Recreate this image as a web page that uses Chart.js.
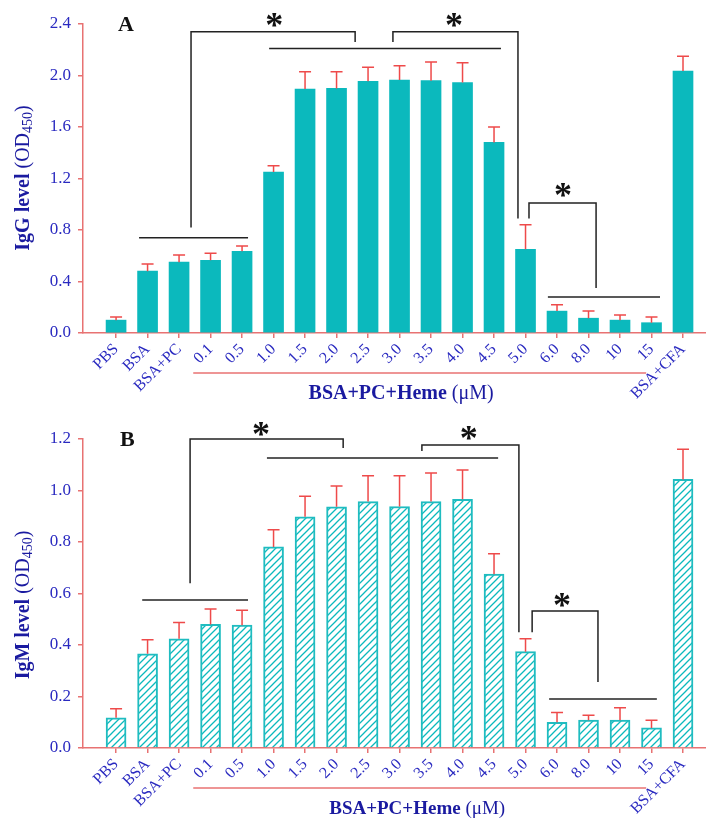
<!DOCTYPE html>
<html>
<head>
<meta charset="utf-8">
<script src="https://cdn.jsdelivr.net/npm/chart.js@4.4.0/dist/chart.umd.min.js"></script>
<style>
  html, body { margin: 0; padding: 0; background: #fff; }
  canvas { display: block; }
</style>
</head>
<body>
<canvas id="chartA" width="706" height="411"></canvas>
<canvas id="chartB" width="706" height="412"></canvas>
<script>
// groups on the x axis
const groups = ['PBS', 'BSA', 'BSA+PC', '0.1', '0.5', '1.0', '1.5', '2.0', '2.5', '3.0',
  '3.5', '4.0', '4.5', '5.0', '6.0', '8.0', '10', '15', 'BSA+CFA'];

// panel A - IgG
const iggMean = [0.10, 0.48, 0.55, 0.565, 0.635, 1.25, 1.895, 1.90, 1.955, 1.965,
  1.96, 1.945, 1.48, 0.65, 0.17, 0.115, 0.10, 0.08, 2.035];
const iggErr = [0.025, 0.055, 0.055, 0.055, 0.04, 0.05, 0.135, 0.13, 0.11, 0.11,
  0.145, 0.155, 0.12, 0.19, 0.05, 0.055, 0.04, 0.045, 0.115];
const iggTicks = [0, 0.4, 0.8, 1.2, 1.6, 2.0, 2.4];

// panel B - IgM
const igmMean = [0.117, 0.366, 0.424, 0.48, 0.477, 0.781, 0.898, 0.937, 0.957, 0.938,
  0.957, 0.966, 0.675, 0.374, 0.10, 0.108, 0.108, 0.078, 1.043];
const igmErr = [0.035, 0.054, 0.063, 0.06, 0.058, 0.067, 0.08, 0.08, 0.10, 0.119,
  0.111, 0.114, 0.079, 0.05, 0.038, 0.019, 0.048, 0.03, 0.117];
const igmTicks = [0, 0.2, 0.4, 0.6, 0.8, 1.0, 1.2];

// significance brackets, in (group index, value) units
const iggBrackets = [
  [[0.73, 0.74], [4.19, 0.74]],
  [[2.38, 0.82], [2.38, 2.34], [7.59, 2.34], [7.59, 2.26]],
  [[4.86, 2.21], [12.22, 2.21]],
  [[8.79, 2.26], [8.79, 2.34], [12.76, 2.34], [12.76, 0.89]],
  [[13.11, 0.89], [13.11, 1.01], [15.24, 1.01], [15.24, 0.35]],
  [[13.71, 0.28], [17.27, 0.28]]
];
const iggStars = [[5.02, 2.43], [10.73, 2.43], [14.19, 1.11]];

const igmBrackets = [
  [[0.83, 0.575], [4.19, 0.575]],
  [[2.35, 0.64], [2.35, 1.2], [7.21, 1.2], [7.21, 1.165]],
  [[4.79, 1.126], [12.13, 1.126]],
  [[9.71, 1.153], [9.71, 1.177], [12.79, 1.177], [12.79, 0.45]],
  [[13.21, 0.45], [13.21, 0.532], [15.3, 0.532], [15.3, 0.256]],
  [[13.75, 0.19], [17.17, 0.19]]
];
const igmStars = [[4.6, 1.24], [11.2, 1.223], [14.16, 0.575]];

const SERIF = '"Liberation Serif", "Times New Roman", serif';
const TICK_BLUE = '#2a2ac0';
const TITLE_BLUE = '#1a1aa0';
const AXIS_RED = '#e87272';
const ERR_RED = '#ee4a4a';
const TEAL = '#0bb9bd';

function hatchPattern() {
  const c = document.createElement('canvas');
  c.width = 7; c.height = 7;
  const g = c.getContext('2d');
  g.fillStyle = '#fff';
  g.fillRect(0, 0, 7, 7);
  g.strokeStyle = TEAL;
  g.lineWidth = 1.3;
  g.beginPath();
  g.moveTo(0, 7); g.lineTo(7, 0);
  g.moveTo(-1, 1); g.lineTo(1, -1);
  g.moveTo(6, 8); g.lineTo(8, 6);
  g.stroke();
  return g.createPattern(c, 'repeat');
}

const errorBarPlugin = {
  id: 'errorBars',
  afterDatasetsDraw(chart) {
    const { ctx, scales: { y } } = chart;
    const ds = chart.data.datasets[0];
    const meta = chart.getDatasetMeta(0);
    ctx.save();
    ctx.strokeStyle = ERR_RED;
    ctx.lineWidth = 1.5;
    meta.data.forEach((bar, i) => {
      const v = ds.data[i].y;
      const y0 = y.getPixelForValue(v);
      const y1 = y.getPixelForValue(v + ds.errors[i]);
      ctx.beginPath();
      ctx.moveTo(bar.x, y0); ctx.lineTo(bar.x, y1);
      ctx.moveTo(bar.x - 6, y1); ctx.lineTo(bar.x + 6, y1);
      ctx.stroke();
    });
    ctx.restore();
  }
};

// brackets, stars, panel letter, axis titles
function annotationPlugin(cfg) {
  return {
    id: 'annotations',
    afterDraw(chart) {
      const { ctx, chartArea, scales: { x, y } } = chart;
      ctx.save();

      // brackets
      ctx.strokeStyle = '#222';
      ctx.lineWidth = 1.5;
      cfg.brackets.forEach(path => {
        ctx.beginPath();
        path.forEach(([gx, gy], k) => {
          const px = x.getPixelForValue(gx), py = y.getPixelForValue(gy);
          if (k === 0) ctx.moveTo(px, py); else ctx.lineTo(px, py);
        });
        ctx.stroke();
      });

      // stars
      ctx.fillStyle = '#111';
      ctx.font = `bold 36px ${SERIF}`;
      ctx.textAlign = 'center';
      ctx.textBaseline = 'alphabetic';
      cfg.stars.forEach(([gx, gy]) => {
        ctx.fillText('*', x.getPixelForValue(gx), y.getPixelForValue(gy) + 17);
      });

      // panel letter
      ctx.font = `bold 22px ${SERIF}`;
      ctx.textAlign = 'left';
      ctx.textBaseline = 'middle';
      ctx.fillText(cfg.letter, cfg.letterX, chartArea.top + 1);

      // heme underline + title
      const yb = chartArea.bottom;
      ctx.strokeStyle = AXIS_RED;
      ctx.lineWidth = 1.5;
      ctx.beginPath();
      ctx.moveTo(x.getPixelForValue(2.45), yb + 40);
      ctx.lineTo(x.getPixelForValue(16.83), yb + 40);
      ctx.stroke();

      const bold = 'BSA+PC+Heme', norm = ' (\u03bcM)';
      ctx.fillStyle = TITLE_BLUE;
      ctx.textBaseline = 'middle';
      ctx.font = `bold ${cfg.titleSize}px ${SERIF}`;
      const wb = ctx.measureText(bold).width;
      ctx.font = `${cfg.titleSize}px ${SERIF}`;
      const wn = ctx.measureText(norm).width;
      let tx = x.getPixelForValue(cfg.titleX) - (wb + wn) / 2;
      ctx.textAlign = 'left';
      ctx.font = `bold ${cfg.titleSize}px ${SERIF}`;
      ctx.fillText(bold, tx, yb + 61);
      ctx.font = `${cfg.titleSize}px ${SERIF}`;
      ctx.fillText(norm, tx + wb, yb + 61);

      // y axis title, rotated
      ctx.translate(24, cfg.yTitleY);
      ctx.rotate(-Math.PI / 2);
      const parts = [
        { t: cfg.yTitle, f: `bold 20px ${SERIF}`, dy: 0 },
        { t: ' (OD', f: `20px ${SERIF}`, dy: 0 },
        { t: '450', f: `14px ${SERIF}`, dy: 4 },
        { t: ')', f: `20px ${SERIF}`, dy: 0 }
      ];
      let total = 0;
      parts.forEach(p => { ctx.font = p.f; p.w = ctx.measureText(p.t).width; total += p.w; });
      let cx = -total / 2;
      parts.forEach(p => {
        ctx.font = p.f;
        ctx.fillText(p.t, cx, p.dy);
        cx += p.w;
      });
      ctx.restore();
    }
  };
}

function makeChart(id, means, errs, ticks, fill, border, cfg) {
  return new Chart(document.getElementById(id), {
    type: 'bar',
    data: {
      datasets: [{
        data: means.map((v, i) => ({ x: i, y: v })),
        errors: errs,
        backgroundColor: fill,
        borderColor: border,
        borderWidth: cfg.borderWidth,
        barThickness: 20
      }]
    },
    options: {
      responsive: false,
      animation: false,
      layout: { padding: { top: cfg.top, right: 0, left: 0, bottom: 0 } },
      plugins: { legend: { display: false }, tooltip: { enabled: false } },
      scales: {
        x: {
          type: 'linear',
          min: -1.05,
          max: 18.73,
          offset: false,
          afterBuildTicks: s => { s.ticks = groups.map((g, i) => ({ value: i })); },
          afterFit: s => { s.height = cfg.xHeight; },
          grid: { offset: false, drawOnChartArea: false, drawTicks: true, tickLength: 5, color: AXIS_RED, lineWidth: 1.5 },
          border: { color: AXIS_RED, width: 1.5 },
          ticks: {
            autoSkip: false,
            minRotation: 45,
            maxRotation: 45,
            padding: 2,
            color: TICK_BLUE,
            font: { family: SERIF, size: 16 },
            callback: v => groups[v]
          }
        },
        y: {
          min: 0,
          max: ticks[ticks.length - 1],
          afterBuildTicks: s => { s.ticks = ticks.map(v => ({ value: v })); },
          afterFit: s => { s.width = 83; },
          grid: { drawOnChartArea: false, drawTicks: true, tickLength: 5, color: AXIS_RED, lineWidth: 1.5 },
          border: { color: AXIS_RED, width: 1.5 },
          ticks: {
            padding: 7,
            color: TICK_BLUE,
            font: { family: SERIF, size: 17 },
            callback: v => Number(v).toFixed(1)
          }
        }
      }
    },
    plugins: [errorBarPlugin, annotationPlugin(cfg)]
  });
}

makeChart('chartA', iggMean, iggErr, iggTicks, TEAL, TEAL, {
  top: 24, xHeight: 78, borderWidth: 0,
  brackets: iggBrackets, stars: iggStars,
  letter: 'A', letterX: 118,
  titleX: 9.05, titleSize: 20,
  yTitle: 'IgG level', yTitleY: 178
});

makeChart('chartB', igmMean, igmErr, igmTicks, hatchPattern(), '#1fbcc0', {
  top: 28, xHeight: 75, borderWidth: 2,
  brackets: igmBrackets, stars: igmStars,
  letter: 'B', letterX: 120,
  titleX: 9.56, titleSize: 19,
  yTitle: 'IgM level', yTitleY: 194
});
</script>
</body>
</html>
